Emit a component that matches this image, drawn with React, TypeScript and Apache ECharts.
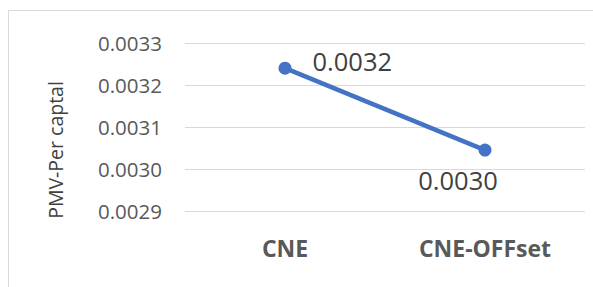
import React, { useEffect, useRef } from "react";
import * as echarts from "echarts";

const categories = ["CNE", "CNE-OFFset"];
const values = [0.00324, 0.003045];
const labelTexts = ["0.0032", "0.0030"];
const yMin = 0.0029;
const yMax = 0.0033;
const yStep = 0.0001;
const yTitle = "PMV-Per captal";

export default function App() {
  const ref = useRef<HTMLDivElement>(null);
  useEffect(() => {
    if (!ref.current) return;
    const chart = echarts.init(ref.current, undefined, { renderer: "svg" });
    const font = "'Open Sans', sans-serif";
    chart.setOption({
      animation: false,
      backgroundColor: "#ffffff",
      grid: { left: 185, right: 8, top: 43, bottom: 76 },
      xAxis: {
        type: "category",
        data: categories,
        boundaryGap: true,
        axisLine: { show: false },
        axisTick: { show: false },
        axisLabel: {
          color: "#595959",
          fontFamily: font,
          fontWeight: "bold",
          fontSize: 23,
          margin: 25,
        },
      },
      yAxis: {
        type: "value",
        min: yMin,
        max: yMax,
        interval: yStep,
        axisLine: { show: false },
        axisTick: { show: false },
        splitLine: { lineStyle: { color: "#d9d9d9", width: 1 } },
        axisLabel: {
          color: "#595959",
          fontFamily: font,
          fontSize: 20.5,
          margin: 23,
          formatter: (v: number) => v.toFixed(4),
        },
      },
      graphic: [
        {
          type: "rect",
          shape: { x: 8.5, y: 10.5, width: 700, height: 400 },
          style: { fill: "none", stroke: "#d9d9d9", lineWidth: 1 },
          silent: true,
          z: -10,
        },
        {
          type: "text",
          x: 55,
          y: 150,
          rotation: Math.PI / 2,
          style: {
            text: yTitle,
            fill: "#404040",
            font: `19.5px ${font}`,
            align: "center",
            verticalAlign: "middle",
          },
        },
      ],
      series: [
        {
          type: "line",
          data: values.map((v, i) => ({
            value: v,
            label:
              i === 0
                ? { position: "right", offset: [16, -7] }
                : { position: "bottom", offset: [-27, 5] },
          })),
          symbol: "circle",
          symbolSize: 13,
          lineStyle: { color: "#4472C4", width: 4.5 },
          itemStyle: { color: "#4472C4" },
          label: {
            show: true,
            color: "#404040",
            fontFamily: font,
            fontSize: 25.5,
            formatter: (p: any) => labelTexts[p.dataIndex],
          },
        },
      ],
    });
    return () => chart.dispose();
  }, []);
  return (
    <div
      ref={ref}
      style={{ position: "fixed", left: 0, top: 0, width: 593, height: 287 }}
    />
  );
}
